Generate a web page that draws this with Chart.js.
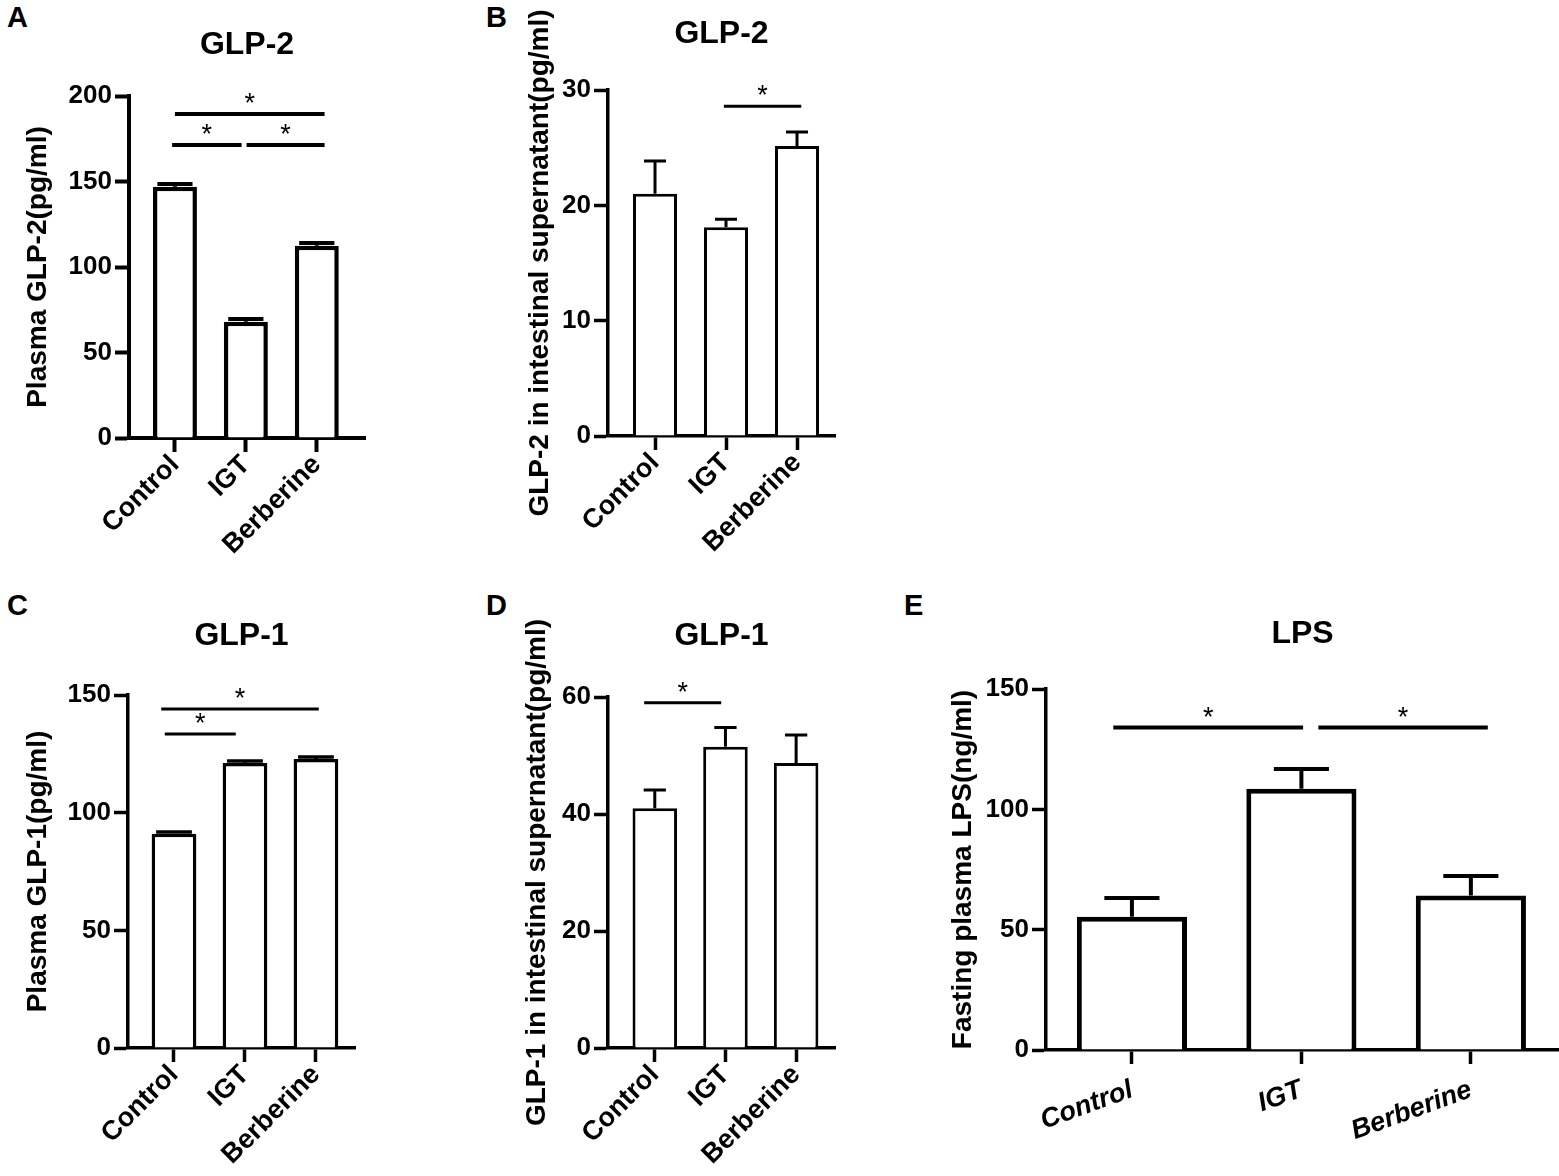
<!DOCTYPE html>
<html>
<head>
<meta charset="utf-8">
<script src="https://cdn.jsdelivr.net/npm/chart.js@4.4.1/dist/chart.umd.min.js"></script>
<style>
  body { margin: 0; width: 1559px; height: 1176px; background: #fff; position: relative; overflow: hidden; }
  .panel { position: absolute; }
  .tag { position: absolute; font-family: "Liberation Sans", Arial, sans-serif; font-weight: bold; font-size: 29px; color: #000; }
</style>
</head>
<body>
<div class="tag" style="left:7px;top:1px">A</div>
<div class="tag" style="left:486px;top:1px">B</div>
<div class="tag" style="left:7px;top:589px">C</div>
<div class="tag" style="left:486px;top:589px">D</div>
<div class="tag" style="left:904px;top:589px">E</div>

<div class="panel" style="left:0px;top:0px;width:480px;height:590px"><canvas id="chartA"></canvas></div>
<div class="panel" style="left:480px;top:0px;width:420px;height:590px"><canvas id="chartB"></canvas></div>
<div class="panel" style="left:0px;top:590px;width:480px;height:586px"><canvas id="chartC"></canvas></div>
<div class="panel" style="left:480px;top:590px;width:420px;height:586px"><canvas id="chartD"></canvas></div>
<div class="panel" style="left:900px;top:590px;width:659px;height:586px"><canvas id="chartE"></canvas></div>

<script>
const FONT = '"Liberation Sans", Arial, sans-serif';

// 그룹
const categories = ["Control", "IGT", "Berberine"];

// A: 혈장 GLP-2 (pg/ml)
const glp2PlasmaMean = [147.0, 68.0, 112.4];
const glp2PlasmaSem = [1.6, 1.6, 1.6];
const glp2PlasmaTicks = [0, 50, 100, 150, 200];
const glp2PlasmaSigFrom = [0, -0.04, 1.01];
const glp2PlasmaSigTo = [2.11, 0.94, 2.11];
const glp2PlasmaSigY = [189.5, 171.3, 171.3];

// B: 장 상층액 GLP-2 (pg/ml)
const glp2GutMean = [21.0, 18.1, 25.15];
const glp2GutSem = [2.85, 0.7, 1.2];
const glp2GutTicks = [0, 10, 20, 30];
const glp2GutSigFrom = [0.97];
const glp2GutSigTo = [2.06];
const glp2GutSigY = [28.6];

// C: 혈장 GLP-1 (pg/ml)
const glp1PlasmaMean = [91.0, 121.1, 122.8];
const glp1PlasmaSem = [0.8, 0.9, 0.9];
const glp1PlasmaTicks = [0, 50, 100, 150];
const glp1PlasmaSigFrom = [-0.18, -0.13];
const glp1PlasmaSigTo = [2.04, 0.87];
const glp1PlasmaSigY = [144.1, 133.4];

// D: 장 상층액 GLP-1 (pg/ml)
const glp1GutMean = [41.0, 51.5, 48.7];
const glp1GutSem = [3.1, 3.3, 4.8];
const glp1GutTicks = [0, 20, 40, 60];
const glp1GutSigFrom = [-0.15];
const glp1GutSigTo = [0.94];
const glp1GutSigY = [59.0];

// E: 공복 혈장 LPS (ng/ml)
const lpsMean = [55.4, 108.6, 64.2];
const lpsSem = [7.8, 8.2, 8.1];
const lpsTicks = [0, 50, 100, 150];
const lpsSigFrom = [-0.11, 1.10];
const lpsSigTo = [1.01, 2.10];
const lpsSigY = [134.0, 134.0];

const TITLE_SIZE = 32;
const YTITLE_SIZE = 28;
const YTICK_SIZE = 26;
const XTICK_SIZE = 27;

// 오차 막대(SEM) + 유의성 표시
function marksPlugin(p) {
    return {
        id: "marks",
        afterDatasetsDraw(chart) {
            const { ctx } = chart;
            const x = chart.scales.x, y = chart.scales.y;
            const meta = chart.getDatasetMeta(0);
            ctx.save();
            ctx.strokeStyle = "#000";
            ctx.lineCap = "butt";
            ctx.lineWidth = p.errLine;
            meta.data.forEach((bar, i) => {
                const top = y.getPixelForValue(p.mean[i]);
                const tip = y.getPixelForValue(p.mean[i] + p.sem[i]);
                const half = bar.width * p.capFrac / 2;
                ctx.beginPath();
                ctx.moveTo(bar.x, top);
                ctx.lineTo(bar.x, tip);
                ctx.moveTo(bar.x - half, tip);
                ctx.lineTo(bar.x + half, tip);
                ctx.stroke();
            });
            ctx.lineWidth = p.sigLine;
            ctx.fillStyle = "#000";
            ctx.font = "27px " + FONT;
            ctx.textAlign = "center";
            ctx.textBaseline = "alphabetic";
            p.sigY.forEach((v, k) => {
                const x1 = x.getPixelForValue(p.sigFrom[k]);
                const x2 = x.getPixelForValue(p.sigTo[k]);
                const py = y.getPixelForValue(v);
                ctx.beginPath();
                ctx.moveTo(x1, py);
                ctx.lineTo(x2, py);
                ctx.stroke();
                ctx.fillText("*", (x1 + x2) / 2, py - 2);
            });
            ctx.restore();
        }
    };
}

function makePanel(id, p) {
    const box = p.box, area = p.area;
    const titleLH = TITLE_SIZE * 1.2;
    const titleTop = p.titleY - box.y - titleLH / 2;
    const yTitleLH = YTITLE_SIZE * 1.2;
    const tickFont = { family: FONT, size: YTICK_SIZE, weight: "bold" };
    const xTickFont = { family: FONT, size: XTICK_SIZE, weight: "bold", style: p.italic ? "italic" : "normal" };

    new Chart(document.getElementById(id), {
        type: "bar",
        data: {
            datasets: [{
                data: categories.map((c, i) => ({ x: i, y: p.mean[i] })),
                backgroundColor: "#fff",
                borderColor: "#000",
                borderWidth: p.barLine,
                borderSkipped: "start",
                categoryPercentage: 1,
                barPercentage: p.barFrac
            }]
        },
        options: {
            responsive: true,
            maintainAspectRatio: false,
            animation: false,
            events: [],
            layout: {
                autoPadding: false,
                padding: { left: 0, top: 0, bottom: 0, right: box.x + box.w - area.r }
            },
            plugins: {
                legend: { display: false },
                tooltip: { enabled: false },
                title: {
                    display: true,
                    text: p.title,
                    fullSize: false,
                    color: "#000",
                    font: { family: FONT, size: TITLE_SIZE, weight: "bold", lineHeight: 1.2 },
                    padding: { top: titleTop, bottom: area.t - box.y - titleTop - titleLH }
                }
            },
            scales: {
                x: {
                    type: "linear",
                    min: p.xMin,
                    max: p.xMax,
                    offset: false,
                    afterBuildTicks: (s) => { s.ticks = categories.map((_, i) => ({ value: i })); },
                    afterFit: (s) => { s.height = box.y + box.h - area.b; s.paddingLeft = 0; s.paddingRight = 0; },
                    grid: { display: true, drawOnChartArea: false, drawTicks: true, offset: false, tickLength: 14, tickWidth: p.axisLine, tickColor: "#000" },
                    border: { display: true, color: "#000", width: p.axisLine },
                    ticks: {
                        autoSkip: false,
                        minRotation: p.rot,
                        maxRotation: p.rot,
                        padding: p.xPad,
                        color: "#000",
                        font: xTickFont,
                        callback: (v) => categories[v]
                    }
                },
                y: {
                    min: p.ticks[0],
                    max: p.ticks[p.ticks.length - 1],
                    afterBuildTicks: (s) => { s.ticks = p.ticks.map((v) => ({ value: v })); },
                    afterFit: (s) => { s.width = area.l - box.x; s.paddingTop = 0; s.paddingBottom = 0; },
                    grid: { display: true, drawOnChartArea: false, drawTicks: true, tickLength: 14, tickWidth: p.axisLine, tickColor: "#000" },
                    border: { display: true, color: "#000", width: p.axisLine },
                    ticks: { padding: 3, color: "#000", font: tickFont },
                    title: {
                        display: true,
                        text: p.yTitle,
                        color: "#000",
                        font: { family: FONT, size: YTITLE_SIZE, weight: "bold", lineHeight: 1.2 },
                        padding: { top: p.yTitleX - box.x - yTitleLH / 2, bottom: 0 }
                    }
                }
            }
        },
        plugins: [marksPlugin(p)]
    });
}

makePanel("chartA", {
    box: { x: 0, y: 0, w: 480, h: 590 }, area: { l: 129, t: 96, r: 365, b: 438 },
    xMin: -0.648, xMax: 2.68, titleY: 45, yTitleX: 38, rot: 45, italic: false, xPad: -3,
    title: "GLP-2", yTitle: "Plasma GLP-2(pg/ml)",
    mean: glp2PlasmaMean, sem: glp2PlasmaSem, ticks: glp2PlasmaTicks,
    sigFrom: glp2PlasmaSigFrom, sigTo: glp2PlasmaSigTo, sigY: glp2PlasmaSigY,
    barLine: 4.5, axisLine: 4, errLine: 4, sigLine: 4, capFrac: 0.8, barFrac: 0.62
});

makePanel("chartB", {
    box: { x: 480, y: 0, w: 420, h: 590 }, area: { l: 608, t: 90, r: 835, b: 436 },
    xMin: -0.662, xMax: 2.535, titleY: 34, yTitleX: 540, rot: 45, italic: false, xPad: -3,
    title: "GLP-2", yTitle: "GLP-2 in intestinal supernatant(pg/ml)",
    mean: glp2GutMean, sem: glp2GutSem, ticks: glp2GutTicks,
    sigFrom: glp2GutSigFrom, sigTo: glp2GutSigTo, sigY: glp2GutSigY,
    barLine: 3, axisLine: 3.5, errLine: 3, sigLine: 3, capFrac: 0.5, barFrac: 0.62
});

makePanel("chartC", {
    box: { x: 0, y: 590, w: 480, h: 586 }, area: { l: 128, t: 695, r: 355, b: 1048 },
    xMin: -0.648, xMax: 2.55, titleY: 636, yTitleX: 38, rot: 45, italic: false, xPad: -3,
    title: "GLP-1", yTitle: "Plasma GLP-1(pg/ml)",
    mean: glp1PlasmaMean, sem: glp1PlasmaSem, ticks: glp1PlasmaTicks,
    sigFrom: glp1PlasmaSigFrom, sigTo: glp1PlasmaSigTo, sigY: glp1PlasmaSigY,
    barLine: 3.5, axisLine: 3.5, errLine: 3.5, sigLine: 3, capFrac: 0.8, barFrac: 0.63
});

makePanel("chartD", {
    box: { x: 480, y: 590, w: 420, h: 586 }, area: { l: 608, t: 697, r: 835, b: 1048 },
    xMin: -0.662, xMax: 2.55, titleY: 636, yTitleX: 537, rot: 45, italic: false, xPad: -3,
    title: "GLP-1", yTitle: "GLP-1 in intestinal supernatant(pg/ml)",
    mean: glp1GutMean, sem: glp1GutSem, ticks: glp1GutTicks,
    sigFrom: glp1GutSigFrom, sigTo: glp1GutSigTo, sigY: glp1GutSigY,
    barLine: 3, axisLine: 3.5, errLine: 3, sigLine: 3, capFrac: 0.5, barFrac: 0.63
});

makePanel("chartE", {
    box: { x: 900, y: 590, w: 659, h: 586 }, area: { l: 1046, t: 689, r: 1559, b: 1050 },
    xMin: -0.507, xMax: 2.52, titleY: 634, yTitleX: 963, rot: 20, italic: true, xPad: 10,
    title: "LPS", yTitle: "Fasting plasma LPS(ng/ml)",
    mean: lpsMean, sem: lpsSem, ticks: lpsTicks,
    sigFrom: lpsSigFrom, sigTo: lpsSigTo, sigY: lpsSigY,
    barLine: 5, axisLine: 3.5, errLine: 4, sigLine: 4, capFrac: 0.5, barFrac: 0.65
});
</script>
</body>
</html>
